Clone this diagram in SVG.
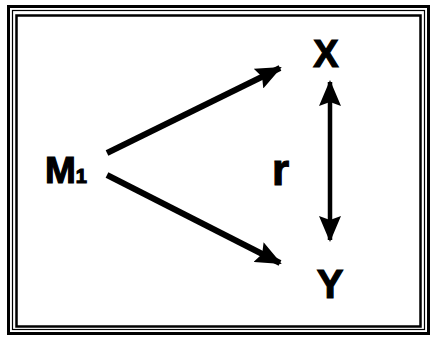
<svg xmlns="http://www.w3.org/2000/svg" width="433" height="339" viewBox="0 0 433 339">
<style>
.lbl{font-family:"Liberation Sans",Arial,sans-serif;font-weight:bold;fill:#000;stroke:#000;stroke-width:1.2}
.ln{stroke:#000;fill:none}
</style>
<defs>
<marker id="ah" markerUnits="userSpaceOnUse" viewBox="0 0 26 22" refX="24" refY="11" markerWidth="26" markerHeight="22" orient="auto-start-reverse">
<path d="M0,0 L26,11 L0,22 L4,11 Z" fill="#000"/>
</marker>
</defs>
<rect width="433" height="339" fill="#fff"/>
<g id="frame">
<rect x="8.5" y="6.5" width="420" height="327" class="ln" stroke-width="3"/>
<rect x="12.5" y="10.5" width="412" height="319" class="ln" stroke-width="1.2"/>
<rect x="16.5" y="15.5" width="404" height="311" class="ln" stroke-width="2.5"/>
</g>
<g id="connectors">
<line x1="107" y1="153" x2="280" y2="68" class="ln" stroke-width="6" marker-end="url(#ah)"/>
<line x1="107" y1="175" x2="280" y2="263" class="ln" stroke-width="6" marker-end="url(#ah)"/>
<line x1="330" y1="82" x2="330" y2="240" class="ln" stroke-width="4.5" marker-start="url(#ah)" marker-end="url(#ah)"/>
</g>
<g id="M1"><text x="45" y="183" class="lbl" font-size="37">M<tspan font-size="20">1</tspan></text></g>
<g id="X"><text x="326" y="67" class="lbl" font-size="38" text-anchor="middle">X</text></g>
<g id="Y"><text x="330" y="298" class="lbl" font-size="40" text-anchor="middle">Y</text></g>
<g id="r"><text x="272" y="185" class="lbl" font-size="44">r</text></g>
</svg>
